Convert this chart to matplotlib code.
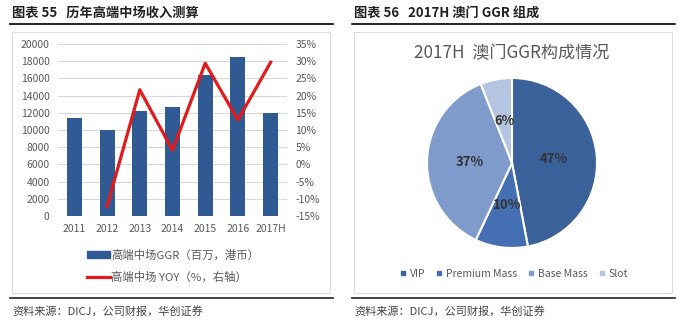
import numpy as np
import matplotlib.pyplot as plt
from matplotlib.patches import Rectangle
from matplotlib.lines import Line2D

plt.rcParams['font.family'] = ['Noto Sans CJK SC', 'DejaVu Sans']

years = ['2011', '2012', '2013', '2014', '2015', '2016', '2017H']
ggr = [11360, 10000, 12170, 12670, 16400, 18490, 11940]
yoy = [np.nan, -12.2, 21.7, 4.1, 29.4, 12.9, 29.7]

pie_labels = ['VIP', 'Premium Mass', 'Base Mass', 'Slot']
pie_vals = [47, 10, 37, 6]
pie_cols = ['#3A6199', '#4470B3', '#7F9BCC', '#B5C4E0']

W, H = 680, 322
fig = plt.figure(figsize=(6.8, 3.22), dpi=100)
fig.patch.set_facecolor('white')

def ax_px(x0, y0, x1, y1):
    # pixel box (top-left origin) -> figure axes
    return fig.add_axes([x0 / W, 1 - y1 / H, (x1 - x0) / W, (y1 - y0) / H])

grey = '#595959'

# frame, titles and source lines
for x0, x1, title in [(10, 333, '图表 55   历年高端中场收入测算'),
                      (352, 675, '图表 56   2017H 澳门 GGR 组成')]:
    fig.text((x0 + 2) / W, 1 - 13 / H, title, fontsize=9.5, fontweight='bold',
             color='#222222', va='center', ha='left')
    fig.add_artist(Line2D([x0 / W, x1 / W], [1 - 24 / H] * 2, color='black', lw=1.2))
    fig.add_artist(Line2D([x0 / W, x1 / W], [1 - 298 / H] * 2, color='#222222', lw=1.2))
    fig.add_artist(Rectangle(((x0 + 2) / W, 1 - 293 / H), (x1 - x0 - 5) / W, 261 / H,
                             fill=False, ec='#DDDDDD', lw=0.8))
    fig.text((x0 + 2) / W, 1 - 311 / H, '资料来源：DICJ，公司财报，华创证券', fontsize=8,
             style='italic', color='#444444', va='center', ha='left')

# left: bars + line
ax = ax_px(58, 44, 287, 216)
x = np.arange(len(years))
ax.bar(x, ggr, width=0.46, color='#2F5A94', zorder=3)
ax.set_ylim(0, 20000)
ax.set_yticks(np.arange(0, 20001, 2000))
ax.set_xlim(-0.5, 6.5)
ax.set_xticks(x)
ax.set_xticklabels(years)
ax.grid(axis='y', color='#D9D9D9', lw=0.8, zorder=0)
for s in ax.spines.values():
    s.set_visible(False)
ax.tick_params(length=0, labelsize=7.5, colors=grey, pad=6)
ax2 = ax.twinx()
ax2.plot(x, yoy, color='#E31A1C', lw=2.3, zorder=4)
ax2.set_ylim(-15, 35)
ax2.set_yticks(np.arange(-15, 36, 5))
ax2.set_yticklabels([f'{v}%' for v in range(-15, 36, 5)])
for s in ax2.spines.values():
    s.set_visible(False)
ax2.tick_params(length=0, labelsize=7.5, colors=grey, pad=6)

h1 = [Rectangle((0, 0), 1, 1, color='#2F5A94'), Line2D([0], [0], color='#E31A1C', lw=2.3)]
fig.legend(h1, ['高端中场GGR（百万，港币）', '高端中场 YOY（%，右轴）'],
           loc='center', bbox_to_anchor=(173 / W, 1 - 266 / H), frameon=False,
           fontsize=8.2, labelcolor=grey, handlelength=2.0, handleheight=0.5,
           handletextpad=0.15, labelspacing=1.0)

# right: pie
cx, cy, r = 512, 163, 85
pax = ax_px(cx - 90, cy - 90, cx + 90, cy + 90)
wedges, texts, autotexts = pax.pie(
    pie_vals, colors=pie_cols, startangle=90, counterclock=False,
    autopct='%d%%', pctdistance=0.5,
    wedgeprops=dict(edgecolor='white', linewidth=1.5),
    textprops=dict(fontsize=9.5, fontweight='bold', color='#333333'))
pax.set_xlim(-90 / r, 90 / r)
pax.set_ylim(-90 / r, 90 / r)
pax.set_aspect('equal')
pax.axis('off')
fig.text(cx / W, 1 - 53 / H, '2017H  澳门GGR构成情况', fontsize=12.3, color=grey,
         ha='center', va='center')

h2 = [Line2D([0], [0], marker='s', ls='', color=c, markersize=3.5) for c in pie_cols]
fig.legend(h2, pie_labels, loc='center', bbox_to_anchor=(514 / W, 1 - 274 / H),
           ncol=4, frameon=False, fontsize=7.5, labelcolor=grey,
           handlelength=0.6, handletextpad=0.4, columnspacing=1.0)

fig.savefig('out.png', dpi=100)
